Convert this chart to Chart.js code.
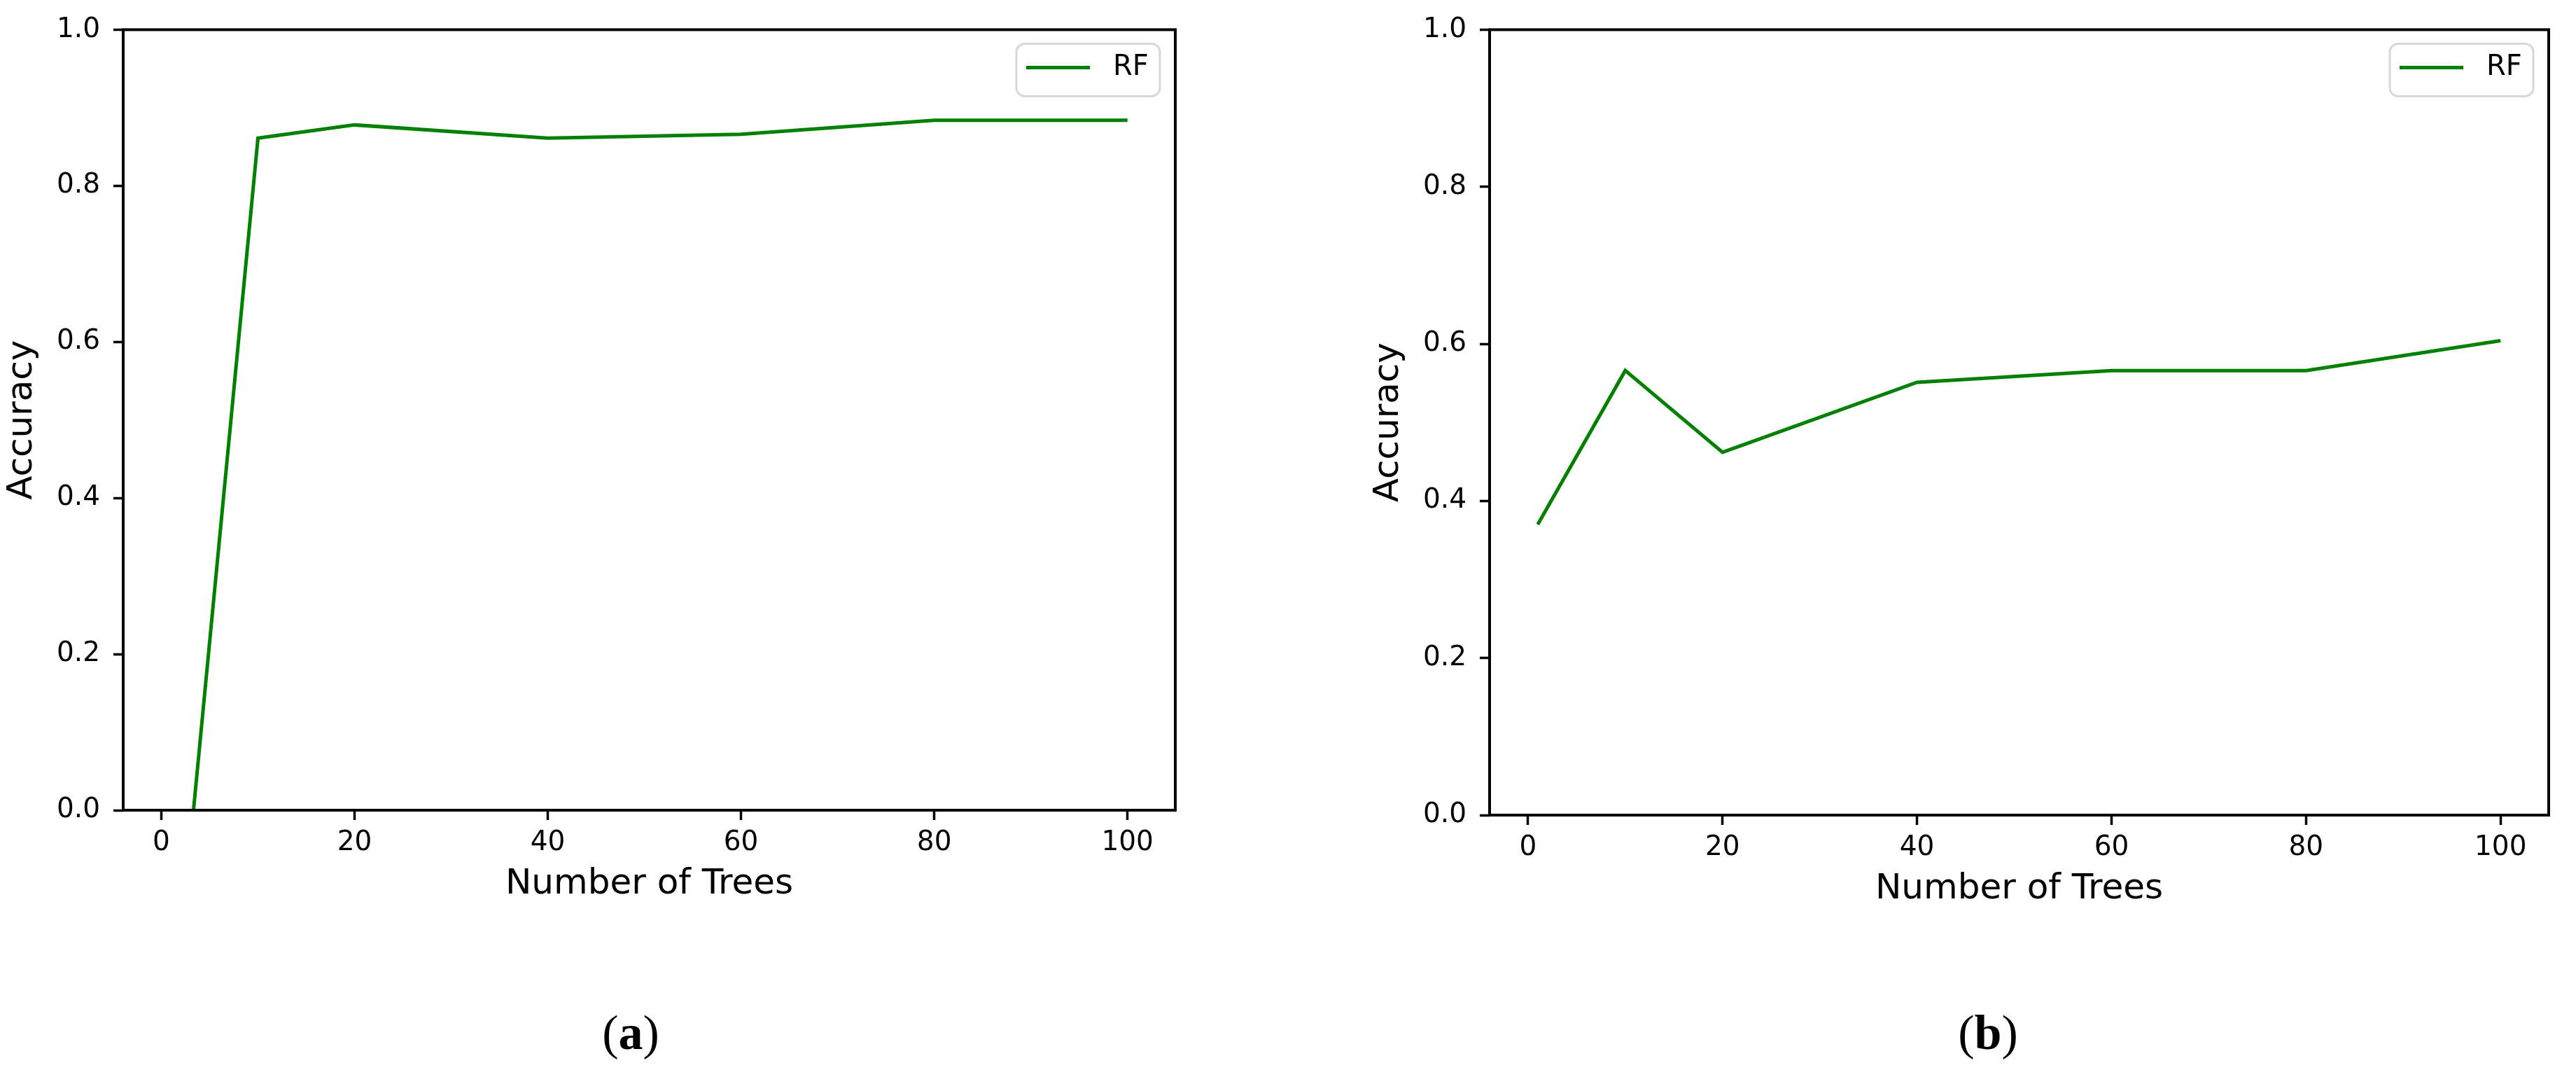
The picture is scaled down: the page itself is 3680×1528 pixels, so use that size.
<!DOCTYPE html>
<html>
<head>
<meta charset="utf-8">
<script src="https://cdn.jsdelivr.net/npm/chart.js@4.4.0/dist/chart.umd.min.js"></script>
<style>
  body { margin: 0; background: #fff; width: 3680px; height: 1528px; position: relative; overflow: hidden; }
  .box { position: absolute; top: 0; width: 1840px; height: 1400px; }
  .cap { position: absolute; top: 1440px; font-family: "Liberation Serif"; font-size: 70px; line-height: 1; transform: translateX(-50%); color: #000; }
</style>
</head>
<body>
<div class="box" style="left:0"><canvas id="chartA"></canvas></div>
<div class="box" style="left:1840px"><canvas id="chartB"></canvas></div>
<div class="cap" style="left:901px">(<b>a</b>)</div>
<div class="cap" style="left:2840px">(<b>b</b>)</div>
<script>
// values
let trees = [1, 10, 20, 40, 60, 80, 100];
let accuracyA = [-0.30, 0.861, 0.878, 0.861, 0.866, 0.884, 0.884];
let accuracyB = [0.370, 0.566, 0.462, 0.551, 0.566, 0.566, 0.604];
let xTicks = [0, 20, 40, 60, 80, 100];
let yTicks = [0, 0.2, 0.4, 0.6, 0.8, 1.0];
let seriesName = 'RF';

// black box round the plot area, like matplotlib spines
const framePlugin = {
  id: 'frame',
  afterDatasetsDraw(chart) {
    const {ctx, chartArea: a} = chart;
    ctx.save();
    ctx.strokeStyle = '#000';
    ctx.lineWidth = 4;
    ctx.strokeRect(a.left, a.top, a.right - a.left, a.bottom - a.top);
    ctx.restore();
  }
};

// legend inside the upper right corner
const boxLegend = {
  id: 'boxLegend',
  afterDraw(chart) {
    const {ctx, chartArea: a} = chart;
    const ds = chart.data.datasets[0];
    const w = 205, h = 75;
    const x = a.right - 22 - w, y = a.top + 20;
    ctx.save();
    ctx.beginPath();
    ctx.roundRect(x, y, w, h, 12);
    ctx.fillStyle = 'rgba(255,255,255,0.8)';
    ctx.fill();
    ctx.strokeStyle = '#d8d8d8';
    ctx.lineWidth = 3;
    ctx.stroke();
    ctx.beginPath();
    ctx.moveTo(x + 14, y + 34);
    ctx.lineTo(x + 105, y + 34);
    ctx.strokeStyle = ds.borderColor;
    ctx.lineWidth = ds.borderWidth;
    ctx.stroke();
    ctx.fillStyle = '#000';
    ctx.font = '40px "DejaVu Sans"';
    ctx.textBaseline = 'middle';
    ctx.fillText(ds.label, x + 138, y + 34);
    ctx.restore();
  }
};

function makeChart(id, values, pad, bottomH) {
  return new Chart(document.getElementById(id), {
    type: 'line',
    data: {
      datasets: [{
        label: seriesName,
        data: trees.map((t, i) => ({x: t, y: values[i]})),
        borderColor: '#008000',
        borderWidth: 5,
        pointRadius: 0,
        tension: 0,
        fill: false,
        clip: {left: 5, top: 5, right: 5, bottom: 0}
      }]
    },
    options: {
      responsive: true,
      maintainAspectRatio: false,
      animation: false,
      layout: { padding: pad },
      plugins: { legend: { display: false }, tooltip: { enabled: false } },
      scales: {
        x: {
          type: 'linear',
          min: -3.95,
          max: 104.95,
          afterBuildTicks: s => { s.ticks = xTicks.map(v => ({value: v})); },
          afterFit: s => { s.height = bottomH; },
          grid: { drawOnChartArea: false, drawTicks: true, tickLength: 14, tickWidth: 3.5, tickColor: '#000' },
          border: { display: false },
          ticks: { padding: 9, color: '#000', maxRotation: 0, font: { family: 'DejaVu Sans', size: 39 }, callback: v => v },
          title: { display: true, text: 'Number of Trees', color: '#000', font: { family: 'DejaVu Sans', size: 50 }, padding: { top: 0, bottom: 14 } }
        },
        y: {
          min: 0,
          max: 1,
          afterBuildTicks: s => { s.ticks = yTicks.map(v => ({value: v})); },
          afterFit: s => { s.width = 176; },
          grid: { drawOnChartArea: false, drawTicks: true, tickLength: 14, tickWidth: 3.5, tickColor: '#000' },
          border: { display: false },
          ticks: { padding: 19, color: '#000', font: { family: 'DejaVu Sans', size: 39 }, callback: v => v.toFixed(1) },
          title: { display: true, text: 'Accuracy', color: '#000', font: { family: 'DejaVu Sans', size: 50 }, padding: { top: 2, bottom: 0 } }
        }
      }
    },
    plugins: [framePlugin, boxLegend]
  });
}

makeChart('chartA', accuracyA, {left: 0, right: 161, top: 38, bottom: 93}, 150);
makeChart('chartB', accuracyB, {left: 112, right: 39, top: 38, bottom: 86}, 150);
</script>
</body>
</html>
